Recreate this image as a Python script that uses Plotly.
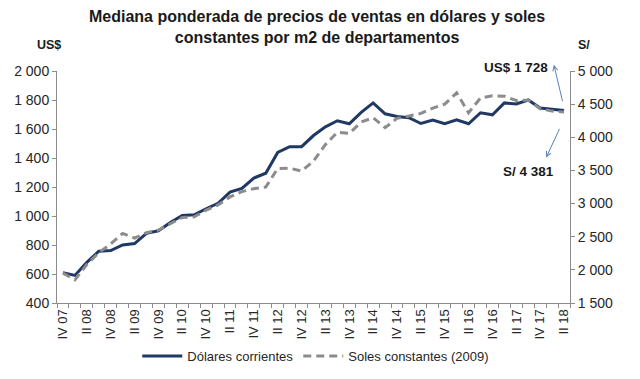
import plotly.graph_objects as go

quarters = ["IV 07", "I 08", "II 08", "III 08", "IV 08", "I 09", "II 09", "III 09", "IV 09",
            "I 10", "II 10", "III 10", "IV 10", "I 11", "II 11", "III 11", "IV 11",
            "I 12", "II 12", "III 12", "IV 12", "I 13", "II 13", "III 13", "IV 13",
            "I 14", "II 14", "III 14", "IV 14", "I 15", "II 15", "III 15", "IV 15",
            "I 16", "II 16", "III 16", "IV 16", "I 17", "II 17", "III 17", "IV 17",
            "I 18", "II 18"]

usd = [608, 590, 680, 757, 762, 800, 810, 880, 898, 955, 1004, 1008, 1050, 1088, 1165, 1190,
       1262, 1295, 1438, 1478, 1478, 1555, 1615, 1657, 1636, 1715, 1780, 1705, 1686, 1678,
       1638, 1662, 1636, 1664, 1636, 1712, 1698, 1780, 1773, 1800, 1745, 1738, 1728]

pen = [1950, 1850, 2080, 2260, 2390, 2550, 2480, 2560, 2600, 2700, 2790, 2800, 2900, 2980,
       3100, 3180, 3225, 3250, 3530, 3535, 3490, 3640, 3890, 4075, 4060, 4230, 4295, 4145,
       4285, 4320, 4360, 4440, 4500, 4670, 4370, 4595, 4625, 4620, 4555, 4560, 4430, 4395, 4381]

left_ticks = [400, 600, 800, 1000, 1200, 1400, 1600, 1800, 2000]
right_ticks = [1500, 2000, 2500, 3000, 3500, 4000, 4500, 5000]

def fmt(v):
    return f"{v:,}".replace(",", " ")

idx = list(range(len(quarters)))
label_idx = [i for i in idx if i % 2 == 0]

FONT = "Liberation Sans, Arial, sans-serif"
NAVY = "#1F3864"
GREY = "#8C8C8C"
AX = "#8C8C8C"
TXT = "#262626"
ARROW = "#5B7FB8"

fig = go.Figure()
fig.add_trace(go.Scatter(x=idx, y=usd, mode="lines", name="Dólares corrientes",
                         line=dict(color=NAVY, width=3)))
fig.add_trace(go.Scatter(x=idx, y=pen, mode="lines", name="Soles constantes (2009)",
                         yaxis="y2", line=dict(color=GREY, width=3, dash="8px,5px")))

# page body has an 8px margin, so the figure is 632x371 and offsets account for it
fig.update_layout(
    width=632, height=371,
    margin=dict(l=49, r=70, t=63, b=76, autoexpand=False),
    paper_bgcolor="white", plot_bgcolor="white",
    font=dict(family=FONT, color=TXT, size=12),
    showlegend=True,
    legend=dict(orientation="h", x=0.487, xref="container", xanchor="center",
                y=0.062, yref="container", yanchor="middle",
                font=dict(size=13, color=TXT), itemwidth=40, tracegroupgap=0),
    xaxis=dict(range=[-0.5, len(quarters) - 0.5], tickmode="array",
               tickvals=label_idx, ticktext=[quarters[i] for i in label_idx],
               tickangle=-90, ticks="", showgrid=False, zeroline=False,
               showline=True, linecolor=AX, linewidth=1,
               tickfont=dict(size=13, color=TXT),
               minor=dict(tickmode="linear", tick0=-0.5, dtick=1, ticks="outside",
                          ticklen=4, tickcolor=AX, showgrid=False)),
    yaxis=dict(range=[400, 2000], tickmode="array", tickvals=left_ticks,
               ticktext=[fmt(v) for v in left_ticks], showgrid=False, zeroline=False,
               showline=True, linecolor=AX, linewidth=1, ticks="outside", ticklen=4,
               tickcolor=AX, tickfont=dict(size=14, color=TXT)),
    yaxis2=dict(range=[1500, 5000], tickmode="array", tickvals=right_ticks,
                ticktext=[fmt(v) for v in right_ticks], overlaying="y", side="right",
                showgrid=False, zeroline=False, showline=True, linecolor=AX, linewidth=1,
                ticks="outside", ticklen=4, tickcolor=AX, tickfont=dict(size=14, color=TXT)),
)

# title (two lines)
fig.add_annotation(text="<b>Mediana ponderada de precios de ventas en dólares y soles<br>constantes por m2 de departamentos</b>",
                   xref="paper", yref="paper", x=0.507, y=1.19, xanchor="center",
                   yanchor="middle", showarrow=False, align="center",
                   font=dict(size=16, color="#1a1a1a"))

# axis unit labels
fig.add_annotation(text="<b>US$</b>", xref="paper", yref="paper", x=-0.016, y=1.112,
                   xanchor="center", yanchor="middle", showarrow=False,
                   font=dict(size=12.5, color="#1a1a1a"))
fig.add_annotation(text="<b>S/</b>", xref="paper", yref="paper", x=1.027, y=1.112,
                   xanchor="center", yanchor="middle", showarrow=False,
                   font=dict(size=12.5, color="#1a1a1a"))

# value callouts
fig.add_annotation(text=f"<b>US$ {fmt(usd[-1])}</b>", x=38.0, y=1960, xref="x", yref="y",
                   yshift=9, showarrow=False, font=dict(size=13.5, color="#1a1a1a"))
fig.add_annotation(text=f"<b>S/ {fmt(pen[-1])}</b>", x=39.0, y=1310, xref="x", yref="y",
                   showarrow=False, font=dict(size=13.5, color="#1a1a1a"))

# arrows (head position, tail offset in px)
fig.add_annotation(text="", x=41.15, y=1995, xref="x", yref="y", yshift=7, ax=9, ay=38,
                   showarrow=True, arrowhead=5, arrowsize=1, arrowwidth=1,
                   arrowcolor=ARROW)
fig.add_annotation(text="", x=40.5, y=1403, xref="x", yref="y", ax=14, ay=-30,
                   showarrow=True, arrowhead=5, arrowsize=1, arrowwidth=1,
                   arrowcolor=ARROW)

fig.write_html("out.html")
